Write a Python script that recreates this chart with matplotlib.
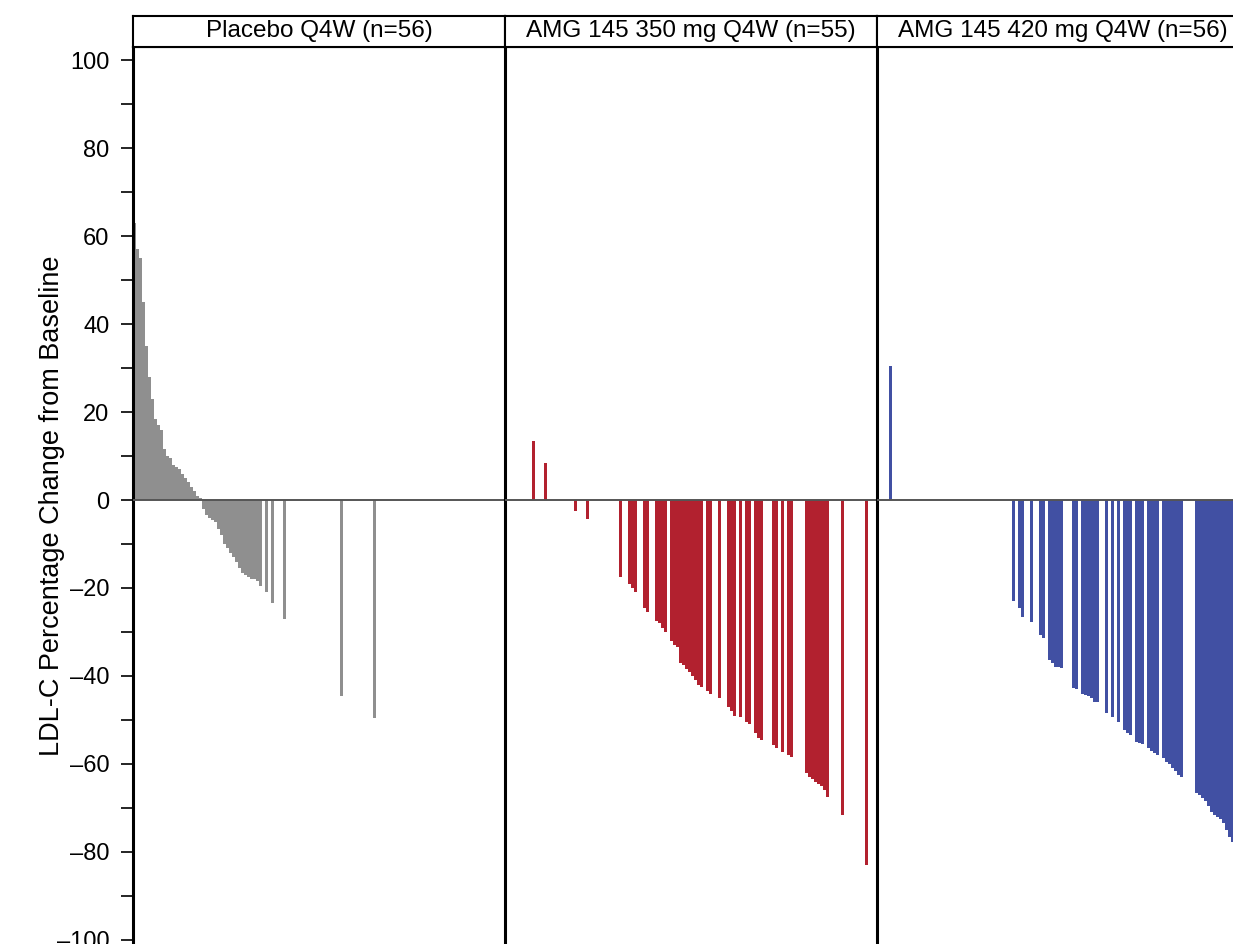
import matplotlib
matplotlib.use("Agg")
import matplotlib.pyplot as plt
from matplotlib.ticker import MultipleLocator, FuncFormatter

plt.rcParams['font.family'] = ['Liberation Sans', 'DejaVu Sans']

# ---- data (subject rank slot, % change from baseline) ----
panel_titles = ["Placebo Q4W (n=56)", "AMG 145 350 mg Q4W (n=55)", "AMG 145 420 mg Q4W (n=56)"]

placebo_rank = list(range(0, 43)) + [44, 46, 50, 69, 80]
placebo_pct = [63, 57, 55, 45, 35, 28, 23, 18.5, 17, 16, 11.5, 10, 9.5, 8, 7.5, 7, 6, 5, 4, 3, 2, 1, 0.5,
               -2, -3.5, -4, -4.5, -5, -6.5, -8, -10, -11, -12, -13, -14, -15.5, -16.5, -17, -17.5,
               -18, -18, -18.5, -19.5,
               -21, -23.5, -27, -44.5, -49.5]

amg350_rank = [9, 13, 23, 27, 38, 41, 42, 43, 46, 47, 50, 51, 52, 53, 55, 56, 57, 58, 59, 60,
               61, 62, 63, 64, 65, 67, 68, 71, 74, 75, 76, 78, 80, 81, 83, 84, 85, 89, 90, 92,
               94, 95, 100, 101, 102, 103, 104, 105, 106, 107, 112, 120]
amg350_pct = [13.5, 8.5, -2.5, -4.3, -17.5, -19, -20, -21, -24.5, -25.5, -27.5, -28, -29, -30,
              -32, -33, -33.5, -37, -37.5, -38.5, -39, -40, -41, -42, -42.5, -43.5, -44, -45,
              -47, -48, -49, -49.3, -50.5, -51, -53, -54, -54.5, -55.7, -56.4, -57.3, -58, -58.3,
              -62, -63, -63.5, -64, -64.5, -65, -66, -67.5, -71.5, -83]

amg420_rank = [4, 45, 47, 48, 51, 54, 55, 57, 58, 59, 60, 61, 65, 66, 68, 69, 70, 71, 72, 73,
               76, 78, 80, 82, 83, 84, 86, 87, 88, 90, 91, 92, 93, 95, 96, 97, 98, 99, 100, 101,
               106, 107, 108, 109, 110, 111, 112, 113, 114, 115, 116, 117, 118]
amg420_pct = [30.5, -23, -24.5, -26.5, -27.7, -30.7, -31.4, -36.4, -37, -38, -38, -38.2,
              -42.7, -43, -44, -44.3, -44.6, -45, -46, -46, -48.5, -49.3, -50.4, -52.3, -53,
              -53.4, -55, -55.2, -55.4, -56.4, -57, -57.5, -58, -58.6, -59.5, -60, -61, -61.5,
              -62.5, -63, -66.6, -67, -67.7, -68.5, -69.5, -71, -71.5, -72, -72.5, -73.5, -75,
              -76.5, -77.8]

ranks = [placebo_rank, amg350_rank, amg420_rank]
values = [placebo_pct, amg350_pct, amg420_pct]
colors = ["#8f8f8f", "#b2212f", "#4150a3"]
widths = [1.0, 0.88, 0.9]

# ---- layout ----
FW, FH = 1233, 944
fig = plt.figure(figsize=(FW / 100, FH / 100), dpi=100)
left_px, panel_w_px = 133, 372
top_px, head_top_px = 47, 16
n_slots = 124

fmt = FuncFormatter(lambda v, p: f"{int(round(v))}".replace("-", "\u2013"))

for i in range(3):
    x0 = (left_px + i * panel_w_px) / FW
    ax = fig.add_axes([x0, 0, panel_w_px / FW, (FH - top_px) / FH])
    ax.bar(ranks[i], values[i], width=widths[i], color=colors[i], linewidth=0, align='edge')
    ax.axhline(0, color="#555555", lw=1.4, zorder=3)
    ax.set_xlim(0, n_slots)
    ax.set_ylim(-444 / 4.4, 453 / 4.4)
    ax.set_xticks([])
    for s in ["right", "bottom"]:
        ax.spines[s].set_visible(False)
    ax.spines["left"].set_linewidth(2.2)
    ax.spines["left"].set_color("black")
    ax.spines["top"].set_linewidth(1.5)
    ax.yaxis.set_major_locator(MultipleLocator(20))
    ax.yaxis.set_minor_locator(MultipleLocator(10))
    ax.yaxis.set_major_formatter(fmt)
    if i == 0:
        ax.tick_params(axis='y', which='major', length=9, width=1.2, labelsize=17, pad=8)
        ax.tick_params(axis='y', which='minor', length=9, width=1.2)
        ax.set_ylabel("LDL-C Percentage Change from Baseline", fontsize=19.5)
        ax.yaxis.set_label_coords(-0.182, 0.489)
    else:
        ax.tick_params(axis='y', which='both', left=False, labelleft=False)

    hx = fig.add_axes([x0, 1 - top_px / FH, panel_w_px / FW, (top_px - head_top_px) / FH])
    hx.set_xticks([])
    hx.set_yticks([])
    for s in hx.spines.values():
        s.set_linewidth(1.5)
    hx.text(0.5, 0.5, panel_titles[i], ha="center", va="center", fontsize=17.5,
            transform=hx.transAxes)

fig.savefig("out.png", dpi=100)
